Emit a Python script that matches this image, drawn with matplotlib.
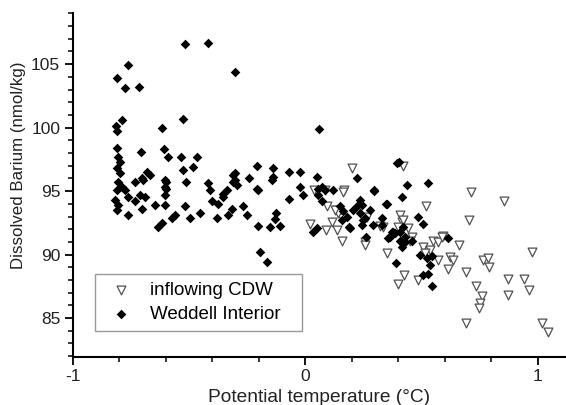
"""Dissolved barium vs potential temperature: inflowing CDW and Weddell interior."""

import matplotlib
matplotlib.use("Agg")
import matplotlib.pyplot as plt
from matplotlib.ticker import MultipleLocator

plt.rcParams["font.family"] = ["Liberation Sans", "DejaVu Sans"]
plt.rcParams["axes.unicode_minus"] = False

# inflowing CDW (open triangles)
cdw_theta = [
    0.203, 0.422, 0.038, 0.085, 0.168, 0.095, 0.135, 0.157, 0.142, 0.021,
    0.089, 0.114, 0.135, 0.157, 0.257, 0.257, 0.264, 0.336, 0.350, 0.408,
    0.415, 0.400, 0.443, 0.426, 0.400, 0.713, 0.857, 0.705, 0.520, 0.458,
    0.451, 0.551, 0.572, 0.594, 0.587, 0.663, 0.508, 0.537, 0.515, 0.572,
    0.623, 0.637, 0.613, 0.692, 0.763, 0.785, 0.792, 0.974, 0.874, 0.942,
    0.964, 0.874, 0.735, 0.759, 0.751, 0.749, 0.692, 1.017, 1.046, 0.486,
    0.322, 0.422, 0.164, 0.128,
]
cdw_ba = [
    96.8, 97.0, 95.1, 95.1, 95.1, 93.8, 93.55, 92.85, 93.25, 92.4,
    91.9, 92.6, 91.9, 91.1, 91.0, 90.75, 93.0, 92.2, 90.1, 93.1,
    92.6, 92.2, 92.1, 88.4, 87.65, 94.9, 94.2, 92.7, 93.8, 91.4,
    91.1, 91.1, 91.0, 91.45, 91.35, 90.75, 90.6, 90.35, 90.1, 89.6,
    89.8, 89.6, 88.9, 88.65, 89.6, 89.7, 89.0, 90.2, 88.1, 88.1,
    87.2, 86.8, 87.5, 86.7, 86.2, 85.8, 84.6, 84.6, 83.9, 88.0,
    92.25, 92.7, 94.95, 93.5,
]

# Weddell interior (filled diamonds)
wed_theta = [
    -0.517, -0.417, -0.761, -0.811, -0.775, -0.715, -0.302, -0.789, -0.814, -0.811,
    -0.524, -0.615, 0.059,
    -0.811, -0.706, -0.606, -0.592, -0.536, -0.467, -0.524, -0.481, -0.804, -0.797,
    -0.811, -0.797, -0.682, -0.668, -0.696, -0.732, -0.703, -0.599, -0.599, -0.513,
    -0.603, -0.804, -0.789, -0.603, -0.811, -0.775, -0.761, -0.711, -0.689, -0.603,
    -0.818, -0.804, -0.732, -0.703, -0.646, -0.603, -0.517, -0.811, -0.761, -0.560,
    -0.574, -0.617, -0.632, -0.495,
    -0.417, -0.409, -0.338, -0.352, -0.352, -0.209, -0.242, -0.309, -0.309, -0.209,
    -0.140, -0.068, -0.022, -0.140, -0.302, -0.302, -0.295, -0.144, -0.202, -0.402,
    -0.374, -0.316, -0.266, -0.331, -0.381, -0.452, -0.252, -0.126, -0.130, -0.202,
    -0.151, -0.108, -0.022, -0.068, -0.194, -0.166,
    -0.008, 0.049, 0.056, 0.071, 0.085, 0.056, 0.071, 0.118, 0.224, 0.297,
    0.236, 0.221, 0.236, 0.207, 0.150, 0.164, 0.178, 0.279, 0.257, 0.348,
    0.415, 0.403, 0.437, 0.049, 0.035, 0.190, 0.329, 0.329, 0.293, 0.262,
    0.365, 0.386, 0.408, 0.422, 0.429, 0.415, 0.408, 0.389, 0.243, 0.250,
    0.243, 0.157, 0.193, 0.372, 0.357, 0.529, 0.486, 0.508, 0.379, 0.616,
    0.494, 0.523, 0.544, 0.537, 0.508, 0.529, 0.547, 0.458, 0.429, 0.296,
    0.350, 0.396,
]
wed_ba = [
    106.6, 106.7, 104.9, 103.9, 103.1, 103.2, 104.4, 100.6, 100.1, 99.7,
    100.7, 100.0, 99.9,
    98.4, 98.1, 98.3, 97.7, 97.65, 97.7, 96.7, 96.9, 97.7, 97.3,
    96.8, 96.4, 96.5, 96.3, 95.9, 95.7, 96.0, 95.7, 95.2, 95.7,
    95.9, 95.7, 95.3, 95.3, 95.1, 95.1, 94.55, 94.7, 94.55, 94.7,
    94.3, 93.9, 94.2, 93.6, 93.9, 93.9, 93.8, 93.5, 93.1, 93.1,
    92.85, 92.45, 92.2, 92.85,
    95.6, 95.1, 95.1, 94.8, 94.55, 97.0, 96.0, 96.3, 95.7, 95.2,
    96.8, 96.5, 96.5, 96.1, 96.4, 95.9, 95.5, 95.9, 95.1, 94.2,
    94.0, 93.6, 93.8, 93.1, 92.85, 93.25, 93.1, 93.25, 92.8, 92.25,
    92.2, 92.25, 95.3, 94.4, 90.2, 89.4,
    94.7, 96.1, 95.2, 95.3, 95.1, 94.7, 94.2, 95.1, 96.0, 95.1,
    94.3, 93.8, 93.25, 93.5, 93.8, 93.4, 93.0, 93.5, 92.85, 94.0,
    94.55, 97.3, 95.5, 92.1, 91.8, 92.2, 92.85, 92.3, 92.3, 91.4,
    91.4, 91.7, 91.8, 92.2, 91.4, 90.6, 91.1, 89.35, 93.9, 92.7,
    92.3, 92.7, 92.1, 91.8, 91.3, 95.6, 93.0, 92.4, 91.8, 91.3,
    90.0, 89.7, 89.9, 89.2, 88.4, 88.5, 87.5, 91.1, 91.0, 95.0,
    94.0, 97.2,
]

X_MIN, X_MAX = -1.0, 1.122
Y_MIN, Y_MAX = 81.95, 109.0

fig = plt.figure(figsize=(5.66, 4.05), dpi=100)
ax = fig.add_axes([0.1285, 0.119, 0.8715, 0.848])

ax.scatter(cdw_theta, cdw_ba, marker="v", s=40, facecolors="white",
           edgecolors="#505050", linewidths=0.9, label="inflowing CDW", zorder=2)
ax.scatter(wed_theta, wed_ba, marker="D", s=24, color="black",
           linewidths=0, label="Weddell Interior", zorder=3)

ax.set_xlim(X_MIN, X_MAX)
ax.set_ylim(Y_MIN, Y_MAX)
ax.spines["top"].set_visible(False)
ax.spines["right"].set_visible(False)
for side in ("left", "bottom"):
    ax.spines[side].set_linewidth(1.5)

ax.xaxis.set_minor_locator(MultipleLocator(0.2))
ax.yaxis.set_minor_locator(MultipleLocator(1))
ax.set_yticks([85, 90, 95, 100, 105])
ax.set_xticks([-1, 0, 1])
ax.set_xticklabels(["-1", "0", "1"])
ax.tick_params(which="major", direction="out", length=6, width=1.3,
               labelsize=12.5, pad=3, labelcolor="#222222")
ax.tick_params(which="minor", direction="out", length=3.5, width=1.1)

ax.set_xlabel("Potential temperature (°C)", fontsize=13.8, color="#222222")
ax.xaxis.set_label_coords(0.5, -0.093)
ax.set_ylabel("Dissolved Barium (nmol/kg)", fontsize=12.2, color="#222222")
ax.yaxis.set_label_coords(-0.094, 0.558)

leg = ax.legend(loc="lower left", bbox_to_anchor=(0.045, 0.075, 0.42, 0.17),
                mode="expand", fontsize=13.5, frameon=True, fancybox=False,
                edgecolor="#808080", borderpad=0.42, handletextpad=0.55,
                labelspacing=0.4, handlelength=1.95, borderaxespad=0.0)
leg.get_frame().set_linewidth(1.0)

fig.savefig("out.png", dpi=100)
plt.close(fig)
